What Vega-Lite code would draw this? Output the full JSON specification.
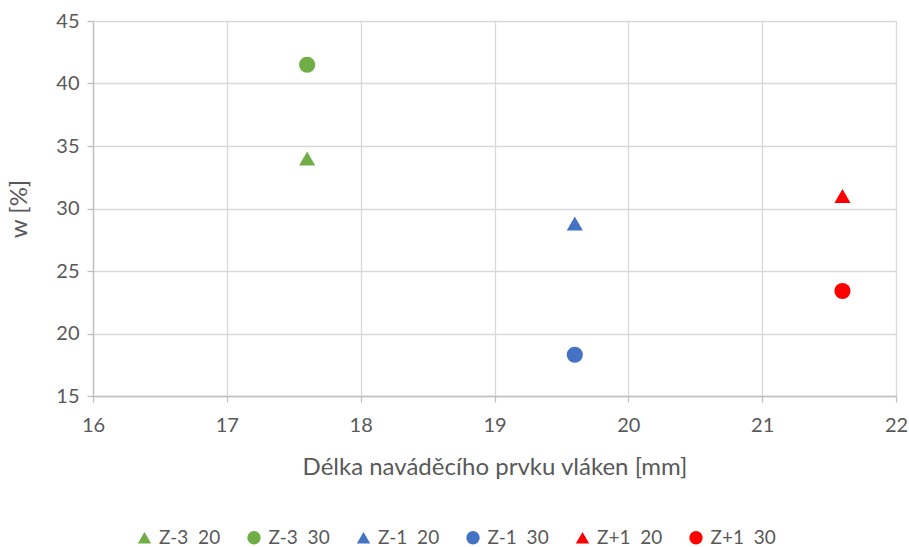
{
  "$schema": "https://vega.github.io/schema/vega-lite/v6.json",
  "width": 803,
  "height": 375,
  "autosize": "none",
  "padding": {"left": 93, "top": 21, "right": 13, "bottom": 151},
  "background": "white",
  "config": {
    "font": "Lato",
    "view": {"stroke": null},
    "axis": {
      "labelFont": "Lato",
      "titleFont": "Lato",
      "labelColor": "#595959",
      "titleColor": "#595959",
      "labelFontSize": 20,
      "titleFontSize": 24,
      "titleFontWeight": "normal",
      "gridColor": "#d9d9d9",
      "gridWidth": 1.3,
      "domainColor": "#bfbfbf",
      "domainWidth": 1.3,
      "tickColor": "#bfbfbf",
      "tickSize": 6,
      "tickWidth": 1.3,
      "labelOverlap": false,
      "labelFlush": false
    },
    "legend": {
      "labelFont": "Lato",
      "labelFontSize": 19,
      "labelColor": "#595959"
    }
  },
  "data": {
    "values": [
      {"series": "Z-3\u00a0\u00a020", "length": 17.6, "w": 34.0},
      {"series": "Z-3\u00a0\u00a030", "length": 17.6, "w": 41.5},
      {"series": "Z-1\u00a0\u00a020", "length": 19.6, "w": 28.8},
      {"series": "Z-1\u00a0\u00a030", "length": 19.6, "w": 18.3},
      {"series": "Z+1\u00a0\u00a020", "length": 21.6, "w": 31.0},
      {"series": "Z+1\u00a0\u00a030", "length": 21.6, "w": 23.4}
    ]
  },
  "mark": {"type": "point", "filled": true, "size": 260, "opacity": 1},
  "encoding": {
    "x": {
      "field": "length",
      "type": "quantitative",
      "scale": {"domain": [16, 22], "nice": false, "zero": false},
      "axis": {"title": "Délka naváděcího prvku vláken [mm]", "values": [16,17,18,19,20,21,22], "labelPadding": 13, "titlePadding": 20, "grid": true}
    },
    "y": {
      "field": "w",
      "type": "quantitative",
      "scale": {"domain": [15, 45], "nice": false, "zero": false},
      "axis": {"title": "w [%]", "values": [15,20,25,30,35,40,45], "labelPadding": 8, "titlePadding": 24, "grid": true}
    },
    "color": {
      "field": "series",
      "type": "nominal",
      "sort": null,
      "scale": {
        "domain": ["Z-3\u00a0\u00a020", "Z-3\u00a0\u00a030", "Z-1\u00a0\u00a020", "Z-1\u00a0\u00a030", "Z+1\u00a0\u00a020", "Z+1\u00a0\u00a030"],
        "range": ["#70ad47", "#70ad47", "#4472c4", "#4472c4", "#ff0000", "#ff0000"]
      },
      "legend": {
        "title": null,
        "orient": "none",
        "direction": "horizontal",
        "columns": 6,
        "legendX": 42,
        "legendY": 507,
        "symbolSize": 180,
        "labelOffset": 5,
        "columnPadding": 23.5,
        "symbolStrokeWidth": 0
      }
    },
    "shape": {
      "field": "series",
      "type": "nominal",
      "sort": null,
      "scale": {
        "domain": ["Z-3\u00a0\u00a020", "Z-3\u00a0\u00a030", "Z-1\u00a0\u00a020", "Z-1\u00a0\u00a030", "Z+1\u00a0\u00a020", "Z+1\u00a0\u00a030"],
        "range": ["triangle-up", "circle", "triangle-up", "circle", "triangle-up", "circle"]
      },
      "legend": null
    }
  }
}
